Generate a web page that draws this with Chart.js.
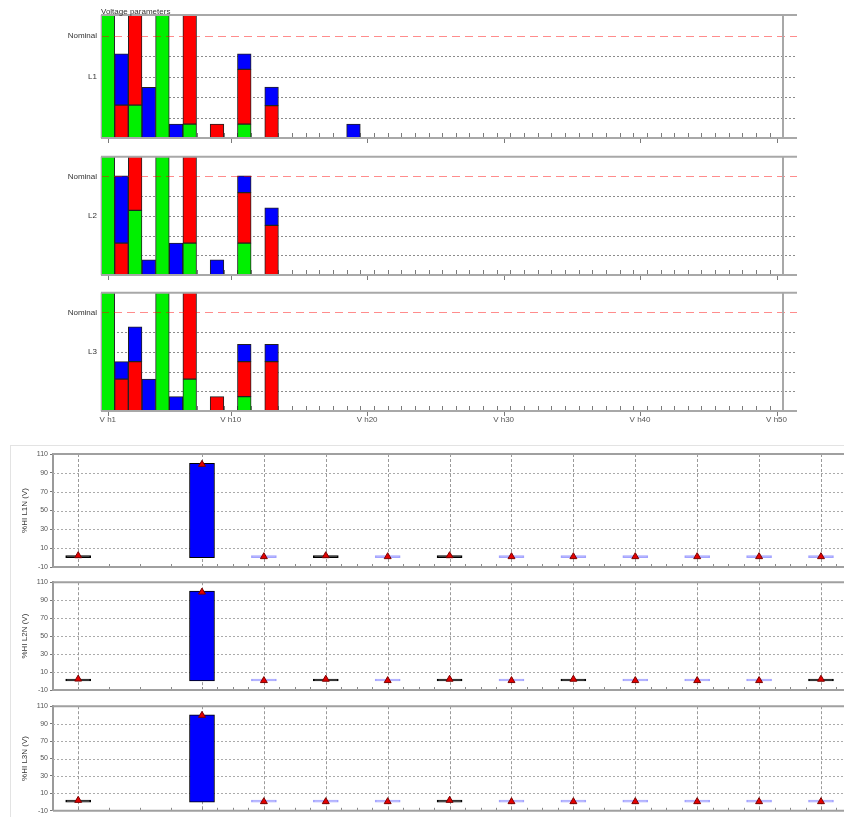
<!DOCTYPE html>
<html>
<head>
<meta charset="utf-8">
<title>Voltage harmonics</title>
<script src="https://cdn.jsdelivr.net/npm/chart.js@4.4.1/dist/chart.umd.min.js"></script>
<style>
  html, body { margin: 0; padding: 0; background: #ffffff; }
  body { width: 844px; height: 817px; overflow: hidden; position: relative; }
  .panel { position: absolute; left: 0; }
  .frame { position: absolute; left: 10px; top: 445px; width: 900px; height: 400px;
           border-left: 1px solid #e3e3e3; border-top: 1px solid #e3e3e3; }
</style>
</head>
<body>
<div class="panel" style="top:0;width:844px;height:148px"><canvas id="specL1"></canvas></div>
<div class="panel" style="top:148px;width:844px;height:136px"><canvas id="specL2"></canvas></div>
<div class="panel" style="top:284px;width:844px;height:146px"><canvas id="specL3"></canvas></div>
<div class="frame"></div>
<div class="panel" style="top:446px;width:900px;height:130px"><canvas id="hiL1"></canvas></div>
<div class="panel" style="top:576px;width:900px;height:124px"><canvas id="hiL2"></canvas></div>
<div class="panel" style="top:700px;width:900px;height:117px"><canvas id="hiL3"></canvas></div>

<script>
// ---- Harmonic spectrum (relative units, Nominal level = 5) ----
const harmonicLabels = [];
for (let n = 1; n <= 50; n++) harmonicLabels.push('V h' + n);
harmonicLabels.push('');                       // spare slot after h50
const labelledOrders = ['V h1', 'V h10', 'V h20', 'V h30', 'V h40', 'V h50'];
const phaseNames = ['L1', 'L2', 'L3'];

// per-order contributions, h1 .. h19 (stacked green / red / blue)
const l1Green = [8, null, 1.6, null, 8, null, 0.68, null, null, null, 0.68];
const l1Red   = [null, 1.6, 8, null, null, null, 8, null, 0.68, null, 2.67, null, 1.58];
const l1Blue  = [null, 2.5, null, 2.47, null, 0.68, null, null, null, null, 0.75, null, 0.9,
                 null, null, null, null, null, 0.68];

const l2Green = [8, null, 3.28, null, 8, null, 1.62, null, null, null, 1.62];
const l2Red   = [null, 1.62, 8, null, null, null, 8, null, null, null, 2.56, null, 2.52];
const l2Blue  = [null, 3.42, null, 0.77, null, 1.62, null, null, 0.77, null, 0.86, null, 0.89];

const l3Green = [8, null, null, null, 8, null, 1.62, null, null, null, 0.73];
const l3Red   = [null, 1.62, 2.51, null, null, null, 8, null, 0.73, null, 1.78, null, 2.51];
const l3Blue  = [null, 0.89, 1.76, 1.62, null, 0.73, null, null, null, null, 0.87, null, 0.87];

// ---- Individual harmonic level per slot ----
const hiSlots   = [0, 2, 3, 4, 5, 6, 7, 8, 9, 10, 11, 12];
const hiL1      = [2, 100, 0.5, 2, 0.5, 2, 0.5, 0.5, 0.5, 0.5, 0.5, 0.5];
const hiL1Mark  = [2, 99, 1, 2, 1, 2, 1, 1, 1, 1, 1, 1];
const hiL2      = [2, 100, 0.3, 2, 0.3, 2, 0.3, 2, 0.3, 0.3, 0.3, 2];
const hiL2Mark  = [2.2, 99, 0.5, 2, 0.5, 2, 0.5, 2, 0.5, 0.5, 0.5, 2];
const hiL3      = [1.5, 100, 0.3, 0.3, 0.3, 2, 0.3, 0.3, 0.3, 0.3, 0.3, 0.3];
const hiL3Mark  = [2, 99.5, 0.5, 0.5, 0.5, 2, 0.5, 0.5, 0.5, 0.5, 0.5, 0.5];
const hiTitles  = ['%HI L1N (V)', '%HI L2N (V)', '%HI L3N (V)'];
const hiTicks   = [-10, 110, 20];   // min, max, step

Chart.defaults.font.family = '"Liberation Sans", Arial, sans-serif';
Chart.defaults.font.size = 8;

function hline(ctx, x0, x1, y) { ctx.beginPath(); ctx.moveTo(x0, y); ctx.lineTo(x1, y); ctx.stroke(); }
function vline(ctx, x, y0, y1) { ctx.beginPath(); ctx.moveTo(x, y0); ctx.lineTo(x, y1); ctx.stroke(); }

// Frame, grid, nominal line and tick marks of a spectrum panel
const harmonicFrame = {
  id: 'harmonicFrame',
  beforeDatasetsDraw(chart) {
    const { ctx, chartArea: a, scales: { x, y } } = chart;
    ctx.save();
    ctx.lineWidth = 1;
    ctx.strokeStyle = '#8c8c8c';
    ctx.setLineDash([2, 2]);
    y.ticks.forEach(t => {
      if (t.value > y.min && t.value < 5) hline(ctx, a.left, a.right, Math.round(y.getPixelForValue(t.value)) + 0.5);
    });
    ctx.setLineDash([]);
    ctx.strokeStyle = '#7a7a7a';
    for (let k = 1; k < harmonicLabels.length; k++) {
      const px = Math.round(x.getPixelForValue(k - 0.5)) + 0.5;
      vline(ctx, px, a.bottom, a.bottom - 5);
    }
    ctx.restore();
  },
  afterDatasetsDraw(chart, args, opts) {
    const { ctx, chartArea: a, scales: { x, y } } = chart;
    ctx.save();
    // Nominal level
    ctx.lineWidth = 1;
    ctx.strokeStyle = 'rgba(255,0,0,0.45)';
    ctx.setLineDash([8, 5]);
    hline(ctx, a.left, a.right, Math.round(y.getPixelForValue(5)) + 0.5);
    ctx.setLineDash([]);
    // frame
    ctx.strokeStyle = '#a8a8a8';
    ctx.lineWidth = 2;
    hline(ctx, a.left, a.right, a.top);
    hline(ctx, a.left, a.right, a.bottom);
    const endX = Math.round(x.getPixelForValue(harmonicLabels.length - 1.5));
    vline(ctx, endX, a.top, a.bottom);
    ctx.lineWidth = 1;
    vline(ctx, a.left + 0.5, a.top, a.bottom);
    // major ticks under the axis
    ctx.strokeStyle = '#7a7a7a';
    labelledOrders.forEach(l => {
      const px = Math.round(x.getPixelForValue(harmonicLabels.indexOf(l))) + 0.5;
      vline(ctx, px, a.bottom + 1, a.bottom + 5);
    });
    if (opts.title) {
      ctx.fillStyle = '#333';
      ctx.font = '8px "Liberation Sans", Arial, sans-serif';
      ctx.textBaseline = 'alphabetic';
      ctx.fillText(opts.title, a.left, a.top - 1.5);
    }
    ctx.restore();
  }
};

function spectrumChart(id, phase, green, red, blue, cfg) {
  const clip = { left: 1, right: 1, top: 0, bottom: 1 };
  return new Chart(document.getElementById(id), {
    type: 'bar',
    data: {
      labels: harmonicLabels,
      datasets: [
        { label: phase + ' green', data: green, backgroundColor: '#00f000', clip },
        { label: phase + ' red', data: red, backgroundColor: '#ff0000', clip },
        { label: phase + ' blue', data: blue, backgroundColor: '#0000ff', clip }
      ]
    },
    options: {
      responsive: true, maintainAspectRatio: false, animation: false, devicePixelRatio: 1,
      layout: { padding: cfg.padding, autoPadding: false },
      datasets: { bar: { barPercentage: 1, categoryPercentage: 1, borderWidth: 1,
                         borderColor: '#222', borderSkipped: false } },
      plugins: { legend: { display: false }, tooltip: { enabled: false },
                 harmonicFrame: { title: cfg.title || '' } },
      scales: {
        x: {
          stacked: true, display: cfg.showLabels,
          grid: { display: false, drawTicks: false }, border: { display: false },
          ticks: { autoSkip: false, maxRotation: 0, minRotation: 0, padding: 4, color: '#555',
                   font: { size: 8 },
                   callback(v, i) { const l = harmonicLabels[i]; return labelledOrders.includes(l) ? l : ''; } },
          afterFit(s) { s.height = cfg.showLabels ? 14 : 0; }
        },
        y: {
          stacked: true, min: 0, max: 6,
          grid: { display: false, drawTicks: false }, border: { display: false },
          ticks: { stepSize: 1, autoSkip: false, padding: 4, color: '#333', font: { size: 8 },
                   callback: v => v === 5 ? 'Nominal' : (v === 3 ? phase : '') },
          afterFit(s) { s.width = 101; }
        }
      }
    },
    plugins: [harmonicFrame]
  });
}

spectrumChart('specL1', phaseNames[0], l1Green, l1Red, l1Blue,
  { padding: { top: 15, right: 47, bottom: 10, left: 0 }, showLabels: false, title: 'Voltage parameters' });
spectrumChart('specL2', phaseNames[1], l2Green, l2Red, l2Blue,
  { padding: { top: 4, right: 47, bottom: 9, left: 0 }, showLabels: false });
spectrumChart('specL3', phaseNames[2], l3Green, l3Red, l3Blue,
  { padding: { top: 3, right: 47, bottom: 5, left: 0 }, showLabels: true });

// Grid, borders and minor ticks of a level panel
const hiFrame = {
  id: 'hiFrame',
  beforeDatasetsDraw(chart) {
    const { ctx, chartArea: a, scales: { x, y } } = chart;
    ctx.save();
    ctx.lineWidth = 1;
    ctx.strokeStyle = '#ababab';
    ctx.setLineDash([2, 2]);
    y.ticks.forEach(t => {
      if (t.value > y.min && t.value < y.max) hline(ctx, a.left, a.right, Math.round(y.getPixelForValue(t.value)) + 0.5);
    });
    ctx.strokeStyle = '#9a9a9a';
    ctx.setLineDash([3, 2]);
    hiSlots.forEach(s => vline(ctx, Math.round(x.getPixelForValue(s)) + 0.5, a.top, a.bottom));
    ctx.setLineDash([]);
    ctx.strokeStyle = '#8a8a8a';
    for (let q = Math.ceil(x.min * 4) / 4; q <= x.max; q += 0.25) {
      if (q < hiSlots[1] && (q * 2) % 1 !== 0) continue;
      vline(ctx, Math.round(x.getPixelForValue(q)) + 0.5, a.bottom, a.bottom - 3);
    }
    ctx.restore();
  },
  afterDatasetsDraw(chart) {
    const { ctx, chartArea: a } = chart;
    ctx.save();
    ctx.strokeStyle = '#a0a0a0';
    ctx.lineWidth = 2;
    hline(ctx, a.left, a.right, a.top);
    hline(ctx, a.left, a.right, a.bottom);
    ctx.restore();
  }
};

// bar colour by level: full bar blue, thin non-zero bar shows its dark outline, near-zero bar pale blue
function levelFill(c) {
  const v = c.raw ? c.raw.y : 0;
  return v >= 10 ? '#0000ff' : (v >= 1 ? '#1a1a1a' : '#a3a3ff');
}
function levelEdge(c) {
  const v = c.raw ? c.raw.y : 0;
  return v >= 1 ? '#000000' : '#a3a3ff';
}

function levelChart(id, title, values, marks, padding) {
  return new Chart(document.getElementById(id), {
    type: 'bar',
    data: {
      datasets: [
        {
          type: 'line', label: title + ' mean', order: 0, showLine: false,
          data: hiSlots.map((s, i) => ({ x: s, y: marks[i] })),
          pointStyle: 'triangle', pointRadius: 4, pointBackgroundColor: '#e60000',
          pointBorderColor: '#7a0000', pointBorderWidth: 1
        },
        {
          type: 'bar', label: title, order: 1,
          data: hiSlots.map((s, i) => ({ x: s, y: values[i] })),
          barThickness: 25, minBarLength: 2, borderWidth: 1, borderSkipped: false,
          backgroundColor: levelFill,
          borderColor: levelEdge
        }
      ]
    },
    options: {
      responsive: true, maintainAspectRatio: false, animation: false, devicePixelRatio: 1,
      layout: { padding: padding, autoPadding: false },
      plugins: { legend: { display: false }, tooltip: { enabled: false } },
      scales: {
        x: { type: 'linear', display: false, offset: false, min: -0.407, max: 13.115 },
        y: {
          min: hiTicks[0], max: hiTicks[1],
          ticks: { stepSize: hiTicks[2], padding: 2, color: '#555', font: { size: 7 } },
          grid: { display: true, drawOnChartArea: false, drawTicks: true, tickLength: 3, color: '#777' },
          border: { display: true, color: '#9a9a9a', width: 2 },
          title: { display: true, text: title, color: '#333', font: { size: 8 }, padding: { top: 20, bottom: 0 } },
          afterFit(s) { s.width = 53; }
        }
      }
    },
    plugins: [hiFrame]
  });
}

levelChart('hiL1', hiTitles[0], hiL1, hiL1Mark, { top: 8, right: 10, bottom: 9, left: 0 });
levelChart('hiL2', hiTitles[1], hiL2, hiL2Mark, { top: 1.5, right: 10, bottom: 10, left: 0 });
levelChart('hiL3', hiTitles[2], hiL3, hiL3Mark, { top: 2, right: 10, bottom: 4, left: 0 });
</script>
</body>
</html>
